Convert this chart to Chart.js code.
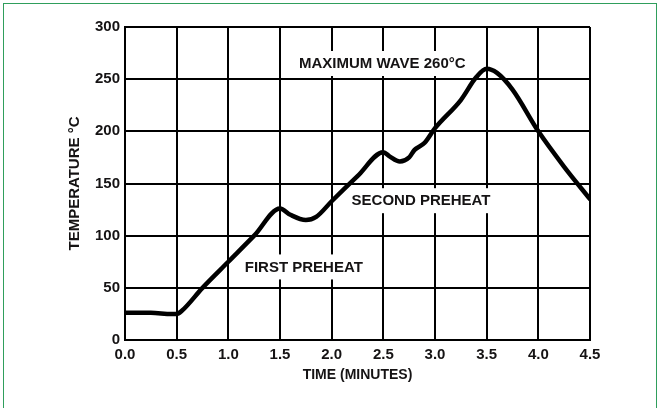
<!DOCTYPE html>
<html>
<head>
<meta charset="utf-8">
<script src="https://cdn.jsdelivr.net/npm/chart.js@4/dist/chart.umd.min.js"></script>
<style>
  html, body { margin: 0; padding: 0; background: #fff; }
  #wrap { position: relative; width: 657px; height: 408px; overflow: hidden; }
  #frame { position: absolute; left: 3px; top: 3px; width: 652px; height: 420px; border: 1px solid #2f9e5c; }
  canvas { position: absolute; left: 0; top: 0; }
</style>
</head>
<body>
<div id="wrap">
  <div id="frame"></div>
  <canvas id="reflow" width="657" height="408"></canvas>
</div>
<script>
// time (minutes) and temperature (deg C)
const times = [0, 0.25, 0.45, 0.5, 0.55, 0.75, 1.0, 1.25, 1.5, 1.6, 1.75, 1.85, 2.0, 2.25, 2.5, 2.56, 2.66, 2.75, 2.8, 2.9, 3.0, 3.25, 3.4, 3.5, 3.6, 3.75, 4.0, 4.25, 4.5];
const temps = [26, 26, 25, 25, 28, 50, 75, 100, 126, 120, 115, 118, 133, 157, 180, 176, 171, 175, 182, 189, 203, 230, 252, 260, 256, 240, 200, 166, 135];

const xTicks = [0, 0.5, 1.0, 1.5, 2.0, 2.5, 3.0, 3.5, 4.0, 4.5];
const yTicks = [0, 50, 100, 150, 200, 250, 300];

// text notes, placed at (time, temp)
const noteText = ["MAXIMUM WAVE 260°C", "SECOND PREHEAT", "FIRST PREHEAT"];
const noteTime = [2.49, 2.865, 1.73];
const noteTemp = [265.5, 134, 70.5];

const ink = "#151314";
const boldFont = (size) => ({ family: "'Liberation Sans', Arial, sans-serif", size: size, weight: "bold" });

// white boxes with text, drawn over the grid but under the curve
const notesPlugin = {
  id: "notes",
  beforeDatasetsDraw(chart) {
    const ctx = chart.ctx;
    const xs = chart.scales.x, ys = chart.scales.y;
    ctx.save();
    ctx.font = "bold 15px 'Liberation Sans', Arial, sans-serif";
    ctx.textAlign = "center";
    ctx.textBaseline = "middle";
    for (let i = 0; i < noteText.length; i++) {
      const px = xs.getPixelForValue(noteTime[i]);
      const py = ys.getPixelForValue(noteTemp[i]);
      const w = ctx.measureText(noteText[i]).width;
      ctx.fillStyle = "#fff";
      ctx.fillRect(px - w / 2 - 8, py - 12, w + 16, 25);
      ctx.fillStyle = ink;
      ctx.fillText(noteText[i], px, py + 1);
    }
    ctx.restore();
  }
};

new Chart(document.getElementById("reflow"), {
  type: "line",
  data: {
    datasets: [{
      data: times.map((t, i) => ({ x: t, y: temps[i] })),
      borderColor: "#000",
      borderWidth: 4.5,
      pointRadius: 0,
      cubicInterpolationMode: "monotone",
      borderCapStyle: "round",
      borderJoinStyle: "round",
      fill: false
    }]
  },
  options: {
    responsive: false,
    animation: false,
    layout: { padding: { top: 27, right: 67, left: 0, bottom: 0 } },
    plugins: { legend: { display: false }, tooltip: { enabled: false } },
    scales: {
      x: {
        type: "linear",
        min: 0,
        max: 4.5,
        afterBuildTicks: (s) => { s.ticks = xTicks.map(v => ({ value: v })); },
        afterFit: (s) => { s.height = 68; },
        grid: { color: "#000", lineWidth: 2, drawTicks: false },
        border: { color: "#000", width: 2 },
        ticks: {
          color: ink,
          font: boldFont(15),
          padding: 6,
          maxRotation: 0,
          callback: (v) => v.toFixed(1)
        },
        title: {
          display: true,
          text: "TIME (MINUTES)",
          color: ink,
          font: boldFont(14),
          padding: { top: 0, bottom: 24 }
        }
      },
      y: {
        min: 0,
        max: 300,
        afterBuildTicks: (s) => { s.ticks = yTicks.map(v => ({ value: v })); },
        afterFit: (s) => { s.width = 125; },
        grid: { color: "#000", lineWidth: 2, drawTicks: false },
        border: { color: "#000", width: 2 },
        ticks: { color: ink, font: boldFont(15), padding: 5 },
        title: {
          display: true,
          text: "TEMPERATURE °C",
          color: ink,
          font: boldFont(15),
          padding: { top: 66, bottom: 0 }
        }
      }
    }
  },
  plugins: [notesPlugin]
});
</script>
</body>
</html>
